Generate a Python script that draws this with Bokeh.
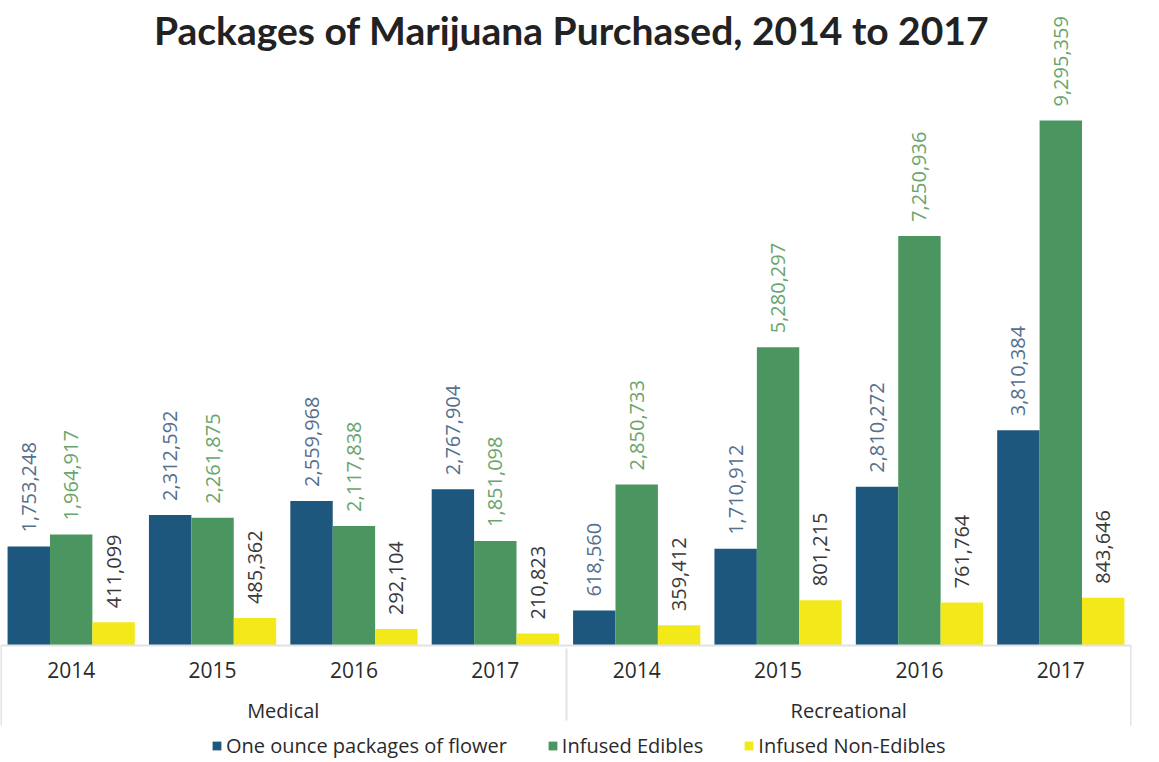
import math
from bokeh.plotting import figure
from bokeh.models import (ColumnDataSource, FactorRange, Range1d, Legend, LegendItem, Label)
from bokeh.transform import dodge
from bokeh.core.properties import value
from bokeh.embed import file_html
from bokeh.resources import INLINE

groups = ["Medical", "Recreational"]
years = ["2014", "2015", "2016", "2017"]
flower = [1753248, 2312592, 2559968, 2767904, 618560, 1710912, 2810272, 3810384]
edibles = [1964917, 2261875, 2117838, 1851098, 2850733, 5280297, 7250936, 9295359]
non_edibles = [411099, 485362, 292104, 210823, 359412, 801215, 761764, 843646]
series_names = ["One ounce packages of flower", "Infused Edibles", "Infused Non-Edibles"]
title_text = "Packages of Marijuana Purchased, 2014 to 2017"

BLUE = "#1d577e"
GREEN = "#4b9660"
YELLOW = "#f3e81a"
BLUE_LBL = "#56708e"
GREEN_LBL = "#6aa56c"
DARK_LBL = "#3a3a3a"
LINE = "#e2e2e2"
FONT = "Open Sans"

factors = [(g, y) for g in groups for y in years]

src = ColumnDataSource(dict(
    x=factors,
    flower=flower, edibles=edibles, non_edibles=non_edibles,
    flower_lbl=[f"{v:,}" for v in flower],
    edibles_lbl=[f"{v:,}" for v in edibles],
    non_edibles_lbl=[f"{v:,}" for v in non_edibles],
))

# scale: ~5.648e-5 px per package; baseline 645px from top, frame 760px tall
x_range = FactorRange(*factors, range_padding=0, factor_padding=0, group_padding=0)
p = figure(x_range=x_range, y_range=Range1d(-2.036e6, 11.42e6),
           frame_width=1131, frame_height=760,
           output_backend="svg", toolbar_location=None,
           min_border_left=0, min_border_right=8, min_border_top=0, min_border_bottom=0)
p.outline_line_color = None
p.background_fill_color = "white"
p.border_fill_color = "white"
p.yaxis.visible = False
p.xgrid.visible = False
p.ygrid.visible = False

# faint outer borders of the category-axis area
p.segment(x0=dodge("x", -0.497, range=p.x_range), x1=dodge("x", -0.497, range=p.x_range),
          y0=0, y1=-1.42e6, source=ColumnDataSource(dict(x=[factors[0]])),
          line_color=LINE, line_width=2)
p.segment(x0=dodge("x", 0.497, range=p.x_range), x1=dodge("x", 0.497, range=p.x_range),
          y0=0, y1=-1.42e6, source=ColumnDataSource(dict(x=[factors[-1]])),
          line_color=LINE, line_width=2)

offsets = [-0.3, 0.0, 0.3]
cols = ["flower", "edibles", "non_edibles"]
colors = [BLUE, GREEN, YELLOW]
lbl_colors = [BLUE_LBL, GREEN_LBL, DARK_LBL]
items = []
for off, col, c, lc, name in zip(offsets, cols, colors, lbl_colors, series_names):
    r = p.vbar(x=dodge("x", off, range=p.x_range), top=col, width=0.3, source=src,
               fill_color=c, line_color=None)
    p.text(x=dodge("x", off, range=p.x_range), y=col, text=col + "_lbl", source=src,
           angle=math.pi / 2, text_align="left", text_baseline="middle",
           y_offset=-14, text_font=value(FONT), text_font_size="20px", text_color=lc)
    items.append(LegendItem(label=name, renderers=[r]))

ax = p.xaxis[0]
ax.fixed_location = 0
ax.axis_line_color = LINE
ax.axis_line_width = 2
ax.major_tick_line_color = None
ax.minor_tick_line_color = None
ax.major_tick_out = 0
ax.major_tick_in = 0
ax.major_label_text_font = FONT
ax.major_label_text_font_size = "21px"
ax.major_label_text_color = "#2a2a2a"
ax.major_label_standoff = 16
ax.group_text_font = FONT
ax.group_text_font_size = "20px"
ax.group_text_font_style = "normal"
ax.group_text_color = "#2a2a2a"
ax.separator_line_color = LINE
ax.separator_line_width = 2

legend = Legend(items=items, orientation="horizontal", location=(211, 1),
                label_text_font=FONT, label_text_font_size="20px", label_text_color="#2a2a2a",
                glyph_width=11, glyph_height=11, spacing=40, label_standoff=4,
                label_height=20, border_line_color=None, padding=0, margin=0,
                background_fill_alpha=0)
p.add_layout(legend)

title = Label(x=4.04, y=10.9e6, text=title_text, text_align="center", text_baseline="middle",
              text_font="Lato", text_font_style="bold", text_font_size="39px",
              text_color="#222222")
p.add_layout(title)

open("out.html", "w").write(file_html(p, INLINE))
